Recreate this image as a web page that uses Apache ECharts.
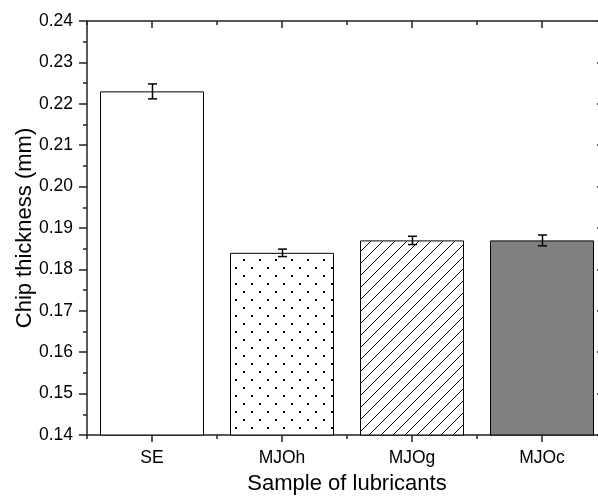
<!DOCTYPE html>
<html>
<head>
<meta charset="utf-8">
<script src="https://cdn.jsdelivr.net/npm/echarts@6/dist/echarts.min.js"></script>
<style>
html,body{margin:0;padding:0;background:#fff;}
#chart{width:598px;height:499px;}
</style>
</head>
<body>
<div id="chart"></div>
<script>
// data
var categories = ["SE", "MJOh", "MJOg", "MJOc"];
var thickness = [0.223, 0.184, 0.187, 0.187];
var errors = [0.0018, 0.0009, 0.001, 0.0013];
var yTicks = [0.14, 0.15, 0.16, 0.17, 0.18, 0.19, 0.20, 0.21, 0.22, 0.23, 0.24];

var font = "'Liberation Sans', Arial, sans-serif";
var axisColor = "#222";

// 填充图案
function dotPattern(){
    var c = document.createElement("canvas");
    c.width = 16; c.height = 16;
    var ctx = c.getContext("2d");
    ctx.fillStyle = "#fff";
    ctx.fillRect(0,0,16,16);
    ctx.fillStyle = "#000";
    ctx.fillRect(3,3,2,2);
    ctx.fillRect(11,11,2,2);
    return c;
}
function hatchPattern(){
    var c = document.createElement("canvas");
    c.width = 12; c.height = 12;
    var ctx = c.getContext("2d");
    ctx.fillStyle = "#fff";
    ctx.fillRect(0,0,12,12);
    ctx.strokeStyle = "#000";
    ctx.lineWidth = 1;
    ctx.beginPath();
    ctx.moveTo(-1,13); ctx.lineTo(13,-1);
    ctx.moveTo(-7,7); ctx.lineTo(7,-7);
    ctx.moveTo(5,19); ctx.lineTo(19,5);
    ctx.stroke();
    return c;
}

var fills = [
    "#ffffff",
    {image: dotPattern(), repeat: "repeat"},
    {image: hatchPattern(), repeat: "repeat"},
    "#808080"
];

var barData = thickness.map(function(v,i){
    return {value: v, itemStyle: {color: fills[i], borderColor: "#000", borderWidth: 1}};
});
var errData = thickness.map(function(v,i){
    return [i, v - errors[i], v + errors[i]];
});

var myChart = echarts.init(document.getElementById("chart"));
myChart.setOption({
    animation: false,
    backgroundColor: "#fff",
    grid: {left: 87, width: 520, top: 21, bottom: 64, outerBoundsMode: "none", containLabel: false},
    xAxis: [
        { // 底部 边界刻度
            type: "category", data: categories, position: "bottom",
            axisLine: {lineStyle: {color: axisColor, width: 1.5}},
            axisTick: {show: true, length: 4, lineStyle: {color: axisColor, width: 1.5}},
            axisLabel: {show: false}
        },
        { // 底部 中心刻度 + 标签
            type: "category", data: categories, position: "bottom",
            axisLine: {show: false},
            axisTick: {show: true, alignWithLabel: true, length: 7, lineStyle: {color: axisColor, width: 1.5}},
            axisLabel: {color: "#000", fontSize: 17.5, fontFamily: font, margin: 14},
            name: "Sample of lubricants", nameLocation: "middle", nameGap: 38,
            nameMoveOverlap: false,
            nameTextStyle: {color: "#000", fontSize: 22, fontFamily: font}
        },
        { // 顶部
            type: "category", data: categories, position: "top",
            axisLine: {lineStyle: {color: axisColor, width: 1.5}},
            axisTick: {show: true, inside: true, alignWithLabel: true, length: 7, lineStyle: {color: axisColor, width: 1.5}},
            axisLabel: {show: false}
        },
        {
            type: "category", data: categories, position: "top",
            axisLine: {show: false},
            axisTick: {show: true, inside: true, length: 4, lineStyle: {color: axisColor, width: 1.5}},
            axisLabel: {show: false}
        }
    ],
    yAxis: [
        {
            type: "value", min: yTicks[0], max: yTicks[yTicks.length-1], interval: 0.01,
            axisLine: {show: true, lineStyle: {color: axisColor, width: 1.5}},
            axisTick: {show: true, length: 8, lineStyle: {color: axisColor, width: 1.5}},
            minorTick: {show: true, splitNumber: 2, length: 4, lineStyle: {color: axisColor, width: 1.5}},
            splitLine: {show: false},
            axisLabel: {color: "#000", fontSize: 17.5, fontFamily: font, margin: 14,
                formatter: function(v){ return v.toFixed(2); }},
            name: "Chip thickness (mm)", nameLocation: "middle", nameGap: 51,
            nameMoveOverlap: false,
            nameTextStyle: {color: "#000", fontSize: 22, fontFamily: font}
        },
        {
            type: "value", position: "right", min: yTicks[0], max: yTicks[yTicks.length-1], interval: 0.01,
            axisLine: {show: true, lineStyle: {color: axisColor, width: 1.5}},
            axisTick: {show: true, inside: true, length: 10, lineStyle: {color: axisColor, width: 1.5}},
            splitLine: {show: false},
            axisLabel: {show: false}
        }
    ],
    series: [
        {
            type: "bar", xAxisIndex: 0, yAxisIndex: 0,
            barWidth: "80%",
            data: barData
        },
        {
            type: "custom", xAxisIndex: 0, yAxisIndex: 0,
            data: errData,
            z: 10,
            renderItem: function(params, api){
                var lo = api.coord([api.value(0), api.value(1)]);
                var hi = api.coord([api.value(0), api.value(2)]);
                var x = Math.round(lo[0]) + 0.5;
                var w = 4.5;
                var st = {stroke: "#000", lineWidth: 1.5};
                return {
                    type: "group",
                    children: [
                        {type: "line", shape: {x1: x, y1: hi[1], x2: x, y2: lo[1]}, style: st},
                        {type: "line", shape: {x1: x-w, y1: hi[1], x2: x+w, y2: hi[1]}, style: st},
                        {type: "line", shape: {x1: x-w, y1: lo[1], x2: x+w, y2: lo[1]}, style: st}
                    ]
                };
            }
        }
    ]
});
window.addEventListener("resize", function(){
    myChart.resize();
});
</script>
</body>
</html>
